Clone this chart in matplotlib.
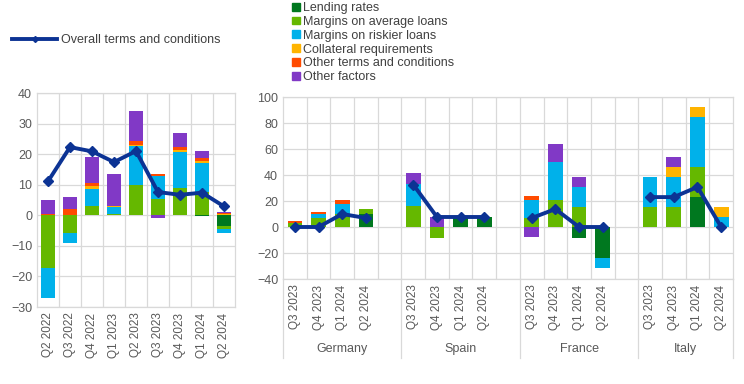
import matplotlib
matplotlib.use("Agg")
import matplotlib.pyplot as plt
import matplotlib.transforms as mtrans
from matplotlib.patches import Patch
from matplotlib.lines import Line2D
import numpy as np

plt.rcParams['font.family'] = ['Liberation Sans', 'DejaVu Sans']

# ---- data: euro area (left) ----
quarters_ea = ["Q2 2022", "Q3 2022", "Q4 2022", "Q1 2023", "Q2 2023",
               "Q3 2023", "Q4 2023", "Q1 2024", "Q2 2024"]
ea_lending = [0, 0, 0, 0, 0, 0, 0, -0.3, -3.6]
ea_avg = [-17.2, -5.8, 3.0, 0.4, 9.8, 5.3, 8.9, 7.5, -0.8]
ea_risk = [-9.8, -3.3, 5.5, 2.4, 12.8, 7.6, 11.8, 9.5, -1.4]
ea_coll = [0, 0, 1.0, 0.3, 0.4, 0, 0.8, 0.7, 0.4]
ea_other_tc = [0.4, 2.0, 0.9, 0, 1.2, 0.6, 0.7, 1.2, 0.3]
ea_other = [4.5, 3.9, 8.6, 10.3, 9.8, -0.9, 4.6, 2.0, 0.3]
ea_overall = [11.1, 22.3, 20.9, 17.4, 21.0, 7.6, 6.7, 7.4, 2.9]

# ---- data: countries (right), 4 quarters each ----
countries = ["Germany", "Spain", "France", "Italy"]
quarters_c = ["Q3 2023", "Q4 2023", "Q1 2024", "Q2 2024"]
c_lending = [0, 0, 0, 10,   0, 0, 7.7, 7.7,    0, 0, -8.2, -23.6,   0, 0, 23.0, 0]
c_avg = [2.8, 6.9, 10.0, 3.8,   15.9, -8.2, 0, 0,   6.9, 20.8, 15.4, 0,   15.4, 15.4, 23.2, 0]
c_risk = [0, 3.1, 7.4, 0,   17.1, 0, 0, 0,   13.9, 29.2, 15.4, -7.9,   23.1, 23.1, 38.4, 7.7]
c_coll = [0, 0, 0, 0,   0, 0, 0, 0,   0, 0, 0, 0,   0, 7.7, 7.7, 7.7]
c_other_tc = [1.8, 1.5, 3.4, 0,   0, 0, 0, 0,   3.0, 0, 0, 0,   0, 0, 0, 0]
c_other = [0, 0, 0, 0,   8.5, 7.9, 0, 0,   -7.4, 13.8, 7.7, 0,   0, 7.6, 0, 0]
c_overall = [0, 0, 10.0, 6.9,   32.6, 7.7, 7.7, 7.7,   6.9, 13.8, 0, 0,   23.0, 23.0, 30.8, 0]

labels = ["Lending rates", "Margins on average loans", "Margins on riskier loans",
          "Collateral requirements", "Other terms and conditions", "Other factors"]
colors = ["#00781F", "#65B800", "#00B1EA", "#FFB400", "#FF4B00", "#8139C6"]
line_col = "#0C3394"
grid_col = "#D9D9D9"
txt_col = "#595959"


def stack(ax, x, series, width):
    pos = np.zeros(len(x))
    neg = np.zeros(len(x))
    for vals, col in zip(series, colors):
        v = np.array(vals, dtype=float)
        bottom = np.where(v >= 0, pos, neg)
        ax.bar(x, v, width, bottom=bottom, color=col, linewidth=0, zorder=2)
        pos = pos + np.where(v > 0, v, 0)
        neg = neg + np.where(v < 0, v, 0)


def style(ax, n):
    ax.set_xlim(-0.5, n - 0.5)
    ax.set_xticks(np.arange(n - 1) + 0.5, minor=True)
    ax.grid(True, which='minor', axis='x', color=grid_col, lw=0.9, zorder=0)
    ax.grid(True, which='major', axis='y', color=grid_col, lw=0.9, zorder=0)
    for s in ax.spines.values():
        s.set_color(grid_col)
        s.set_linewidth(0.9)
    ax.tick_params(which='both', length=0, colors=txt_col, labelsize=9)
    ax.tick_params(axis='x', labelsize=8.5, pad=4)


fig = plt.figure(figsize=(7.44, 3.84), dpi=100)

# left panel
axl = fig.add_axes([37 / 744, 1 - 307 / 384, 198 / 744, 214 / 384])
xl = np.arange(len(quarters_ea))
stack(axl, xl, [ea_lending, ea_avg, ea_risk, ea_coll, ea_other_tc, ea_other], 0.68)
axl.plot(xl, ea_overall, color=line_col, lw=2.8, marker='D', ms=5.5, zorder=4)
axl.set_ylim(-30, 40)
axl.set_yticks(range(-30, 41, 10))
axl.set_xticks(xl)
axl.set_xticklabels(quarters_ea, rotation=90)
style(axl, len(quarters_ea))

# right panel
axr = fig.add_axes([283 / 744, 1 - 279 / 384, 450 / 744, 182 / 384])
nslots = 19
xr = np.array([g * 5 + q for g in range(len(countries)) for q in range(len(quarters_c))])
stack(axr, xr, [c_lending, c_avg, c_risk, c_coll, c_other_tc, c_other], 0.62)
for g in range(len(countries)):
    sl = slice(g * 4, g * 4 + 4)
    axr.plot(xr[sl], c_overall[sl], color=line_col, lw=2.8, marker='D', ms=5.5, zorder=4)
axr.set_ylim(-40, 100)
axr.set_yticks(range(-40, 101, 20))
axr.set_xticks(xr)
axr.set_xticklabels(quarters_c * len(countries), rotation=90)
style(axr, nslots)

trans = mtrans.blended_transform_factory(axr.transData, axr.transAxes)
low = -(358 - 279) / 182
seps = [-0.5, 4.5, 9.5, 14.5, 18.5]
for s in seps:
    axr.plot([s, s], [0, low], transform=trans, color=grid_col, lw=0.9, clip_on=False)
for g, name in enumerate(countries):
    left, right = seps[g], seps[g + 1]
    axr.text((left + right) / 2, -(349 - 279) / 182, name, transform=trans,
             ha='center', va='center', fontsize=9, color=txt_col)

# legends
h_line = [Line2D([0], [0], color=line_col, lw=2.8, marker='D', ms=3, markevery=[1])]
fig.legend(h_line, ["Overall terms and conditions"], loc='center left',
           bbox_to_anchor=(12 / 744, 1 - 40 / 384), frameon=False, fontsize=9,
           handlelength=3.6, handletextpad=0.3, borderpad=0, borderaxespad=0,
           labelcolor='#404040')
h_bars = [Patch(color=c) for c in colors]
fig.legend(h_bars, labels, loc='upper left', bbox_to_anchor=(292 / 744, 1 - 2 / 384),
           frameon=False, fontsize=9, handlelength=0.6, handleheight=0.6,
           handletextpad=0.3, labelspacing=0.15, borderpad=0, borderaxespad=0,
           labelcolor='#404040')

fig.savefig("out.png", dpi=100)
